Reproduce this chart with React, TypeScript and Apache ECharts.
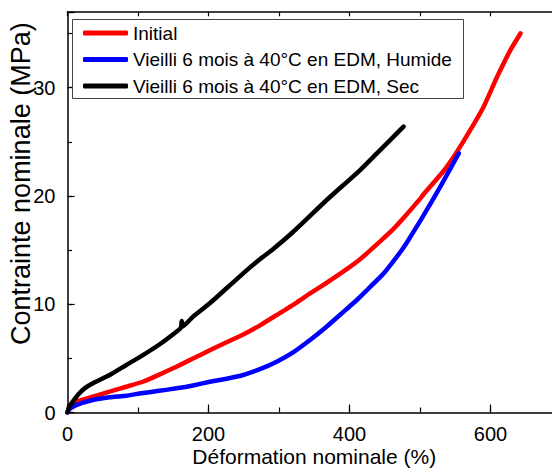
import { useEffect, useRef } from "react";
import * as echarts from "echarts";

const seriesNames = [
  "Initial",
  "Vieilli 6 mois à 40°C en EDM, Humide",
  "Vieilli 6 mois à 40°C en EDM, Sec",
];
const seriesColors = ["#ff0000", "#0000ff", "#000000"];

const xTitle = "Déformation nominale (%)";
const yTitle = "Contrainte nominale (MPa)";

// strain (%) , stress (MPa)
const initialData: [number, number][] = [
  [0, 0], [2.3, 0.45], [12.4, 1.0], [36, 1.46], [59.7, 1.92], [83.4, 2.38], [107, 2.84],
  [131, 3.52], [154.5, 4.23], [178, 4.98], [201.8, 5.75], [225.6, 6.48], [249.2, 7.2],
  [273, 8.05], [296.7, 9.0], [325, 10.15], [344, 11.0], [367.7, 11.98], [391, 13.0],
  [415, 14.15], [443.5, 15.8], [462.4, 16.95], [476.6, 17.95], [500.4, 19.75], [505, 20.15],
  [533.5, 22.3], [552.5, 24.08], [571.4, 26.09], [590.3, 28.24], [609.4, 31.0],
  [628.4, 33.49], [642.5, 35.0],
];

const humideData: [number, number][] = [
  [0, 0], [2.3, 0.3], [12.4, 0.69], [36, 1.15], [59.7, 1.4], [83.4, 1.55], [102.3, 1.75],
  [130, 2.0], [154.5, 2.23], [178, 2.5], [201.8, 2.84], [225.6, 3.12], [249.2, 3.46],
  [273, 4.0], [296.7, 4.69], [320, 5.55], [344, 6.69], [367, 7.9], [388, 9.1],
  [410.4, 10.39], [427, 11.45], [443.5, 12.5], [453, 13.2], [471.9, 14.8], [481.4, 15.7],
  [500.4, 17.7], [505, 18.2], [528.9, 20.85], [555, 23.93],
];

const secData: [number, number][] = [
  [0, 0], [2.3, 0.5], [7.5, 1.0], [14.6, 1.62], [24.2, 2.23], [36, 2.7], [59.7, 3.46],
  [83.4, 4.39], [107, 5.3], [130.8, 6.3], [154.5, 7.46], [161, 7.85],
  [162, 8.45], [163.5, 7.95], [178.1, 8.85], [201.8, 10.08], [225.6, 11.47],
  [249.2, 12.85], [272.9, 14.15], [291.8, 15.1], [320.3, 16.69], [367.7, 19.62],
  [415.1, 22.39], [438.8, 23.93], [476.6, 26.39],
];

const xLabelValues = [0, 200, 400, 600];
const yLabelValues = [0, 10, 20, 30];

export default function App() {
  const ref = useRef<HTMLDivElement>(null);

  useEffect(() => {
    if (!ref.current) return;
    const chart = echarts.init(ref.current, null, { renderer: "svg" });
    const font = "'Liberation Sans', Arial, Helvetica, sans-serif";
    const axisLineStyle = { color: "#000", width: 1.5 };
    const tickStyle = { color: "#000", width: 1.2 };

    const datasets = [initialData, humideData, secData];

    chart.setOption({
      animation: false,
      backgroundColor: "#fff",
      grid: {
        left: 67.5,
        right: -9,
        top: 11.8,
        bottom: 60.5,
        containLabel: false,
        outerBoundsMode: "none",
      },
      graphic: [
        {
          type: "rect",
          left: 72,
          top: 19,
          shape: { width: 391, height: 79 },
          style: { fill: "#fff", stroke: "#444", lineWidth: 1 },
          z: 50,
          silent: true,
        },
      ],
      legend: {
        orient: "vertical",
        left: 72,
        top: 19,
        padding: [4.5, 11, 2.5, 11],
        itemGap: 7.5,
        itemWidth: 45,
        itemHeight: 5,
        icon: "roundRect",
        borderWidth: 0,
        backgroundColor: "transparent",
        selectedMode: false,
        z: 60,
        textStyle: { fontSize: 19, fontFamily: font, color: "#000" },
        data: seriesNames,
      },
      xAxis: [
        {
          type: "value",
          position: "bottom",
          min: 0,
          max: 700,
          interval: 200,
          axisLine: { show: true, onZero: false, lineStyle: axisLineStyle },
          axisTick: { show: true, inside: true, length: 8, lineStyle: tickStyle },
          axisLabel: {
            color: "#000",
            fontSize: 20,
            fontFamily: font,
            margin: 11,
            formatter: (v: number) => (xLabelValues.includes(v) ? String(v) : ""),
          },
          splitLine: { show: false },
          name: xTitle,
          nameLocation: "middle",
          nameGap: 33,
          nameMoveOverlap: false,
          nameTextStyle: { fontSize: 21, fontFamily: font, color: "#000" },
        },
        {
          type: "value",
          position: "bottom",
          min: 0,
          max: 700,
          interval: 100,
          axisLine: { show: false, onZero: false },
          axisTick: { show: true, inside: true, length: 5, lineStyle: tickStyle },
          axisLabel: { show: false },
          splitLine: { show: false },
        },
        {
          type: "value",
          position: "top",
          min: 0,
          max: 700,
          interval: 100,
          axisLine: { show: true, onZero: false, lineStyle: axisLineStyle },
          axisTick: { show: true, inside: true, length: 4.5, lineStyle: tickStyle },
          axisLabel: { show: false },
          splitLine: { show: false },
        },
      ],
      yAxis: [
        {
          type: "value",
          position: "left",
          min: 0,
          max: 37,
          interval: 10,
          axisLine: { show: true, onZero: false, lineStyle: axisLineStyle },
          axisTick: { show: true, inside: true, length: 7, lineStyle: tickStyle },
          axisLabel: {
            color: "#000",
            fontSize: 20,
            fontFamily: font,
            margin: 12,
            formatter: (v: number) => (yLabelValues.includes(v) ? String(v) : ""),
          },
          splitLine: { show: false },
          name: yTitle,
          nameLocation: "middle",
          nameGap: 33.5,
          nameMoveOverlap: false,
          nameTextStyle: {
            fontSize: 27,
            fontFamily: font,
            color: "#000",
            padding: [0, 0, 0, 57],
          },
        },
        {
          type: "value",
          position: "left",
          min: 0,
          max: 37,
          interval: 5,
          axisLine: { show: false, onZero: false },
          axisTick: { show: true, inside: true, length: 4.5, lineStyle: tickStyle },
          axisLabel: { show: false },
          splitLine: { show: false },
        },
      ],
      series: seriesNames.map((name, i) => ({
        name,
        type: "line",
        xAxisIndex: 0,
        yAxisIndex: 0,
        data: datasets[i],
        showSymbol: false,
        symbol: "none",
        smooth: 0.15,
        z: 2 + i,
        itemStyle: { color: seriesColors[i] },
        lineStyle: { color: seriesColors[i], width: 4.5, cap: "round", join: "round" },
        emphasis: { disabled: true },
      })),
    });

    return () => chart.dispose();
  }, []);

  return (
    <div
      ref={ref}
      style={{ position: "absolute", left: 0, top: 0, width: 552, height: 473 }}
    />
  );
}
